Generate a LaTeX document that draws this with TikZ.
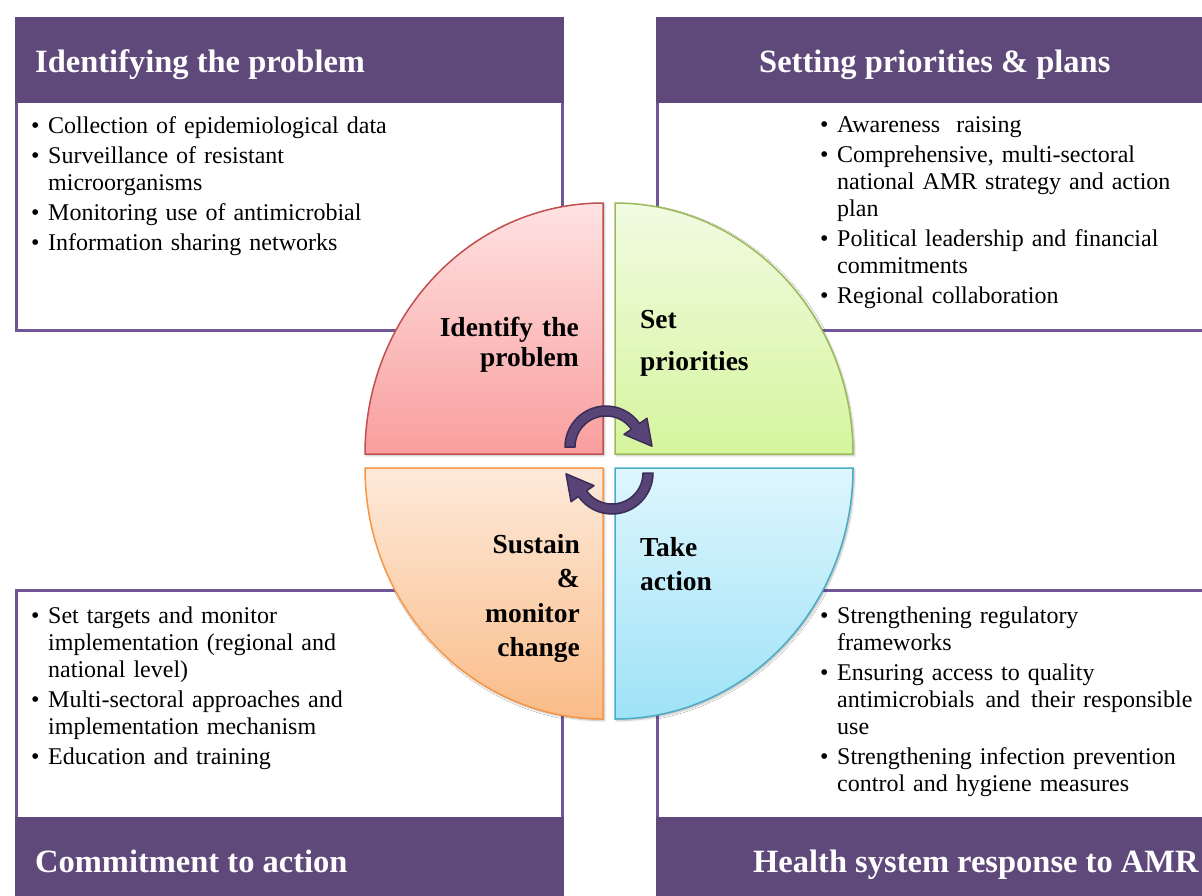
\documentclass[tikz,border=0pt]{standalone}
\usepackage{fontspec}
\setmainfont{Liberation Serif}
\usetikzlibrary{shadows.blur}

% palette
\definecolor{hdr}{RGB}{95,73,122}
\definecolor{frm}{RGB}{112,86,152}
\definecolor{redA}{RGB}{255,226,226}\definecolor{redB}{RGB}{249,158,158}\definecolor{redL}{RGB}{192,80,77}
\definecolor{grnA}{RGB}{241,251,226}\definecolor{grnB}{RGB}{214,245,158}\definecolor{grnL}{RGB}{155,187,89}
\definecolor{orgA}{RGB}{253,234,218}\definecolor{orgB}{RGB}{250,188,136}\definecolor{orgL}{RGB}{247,150,70}
\definecolor{bluA}{RGB}{222,246,253}\definecolor{bluB}{RGB}{158,226,247}\definecolor{bluL}{RGB}{75,172,198}
\definecolor{arrF}{RGB}{88,68,118}
\definecolor{arrL}{RGB}{60,44,88}

\newcommand{\bul}{\makebox[17pt][l]{\textbullet}}
\newcommand{\cnt}{\hspace*{17pt}}

\tikzset{
  panel/.style={fill=white, draw=frm, line width=3pt},
  bar/.style={fill=hdr},
  bartext/.style={text=white, inner sep=0pt, font=\fontsize{32.5}{36}\selectfont\bfseries},
  body/.style={inner sep=0pt, text width=400pt, align=left, anchor=base west,
    font=\fontsize{24}{27}\selectfont},
  quad/.style={line width=1.5pt, blur shadow={shadow xshift=1.5pt, shadow yshift=-1.5pt,
    shadow blur radius=2pt, shadow opacity=30}},
  qlabel/.style={inner sep=0pt, text width=160pt, font=\bfseries},
  cyc/.style={fill=arrF, draw=arrL, line width=1.5pt, line join=round}
}

\begin{document}
\begin{tikzpicture}[x=1pt,y=-1pt]
\useasboundingbox (0,0) rectangle (1202,895);
\clip (0,0) rectangle (1202,895);

% four framed panels with their title bars
\path[panel] (16.5,18.5) rectangle (562.5,330.5);
\path[bar] (15,17) rectangle (564,103);
\path[panel] (657.5,18.5) rectangle (1220,330.5);
\path[bar] (656,17) rectangle (1220,103);
\path[panel] (16.5,590.5) rectangle (562.5,905);
\path[bar] (15,817) rectangle (564,905);
\path[panel] (657.5,590.5) rectangle (1220,905);
\path[bar] (656,817) rectangle (1220,905);

\node[bartext, anchor=base west] (t1) at (35,72) {Identifying the problem};
\node[bartext, anchor=base west] (t2) at (759,72) {Setting priorities \& plans};
\node[bartext, anchor=base west] (t3) at (35,872) {Commitment to action};
\node[bartext, anchor=base west] (t4) at (753,872) {Health system response to AMR};

\node[body] (b1) at (31,133) {%
\bul Collection of epidemiological data\\[3pt]
\bul Surveillance of resistant\\
\cnt microorganisms\\[3pt]
\bul Monitoring use of antimicrobial\\[3pt]
\bul Information sharing networks};

\node[body] (b2) at (820,132) {%
\bul Awareness\ \ raising\\[3pt]
\bul Comprehensive, multi-sectoral\\
\cnt national AMR strategy and action\\
\cnt plan\\[3pt]
\bul Political leadership and financial\\
\cnt commitments\\[3pt]
\bul Regional collaboration};

\node[body] (b3) at (31,623) {%
\bul Set targets and monitor\\
\cnt implementation (regional and\\
\cnt national level)\\[3pt]
\bul Multi-sectoral approaches and\\
\cnt implementation mechanism\\[3pt]
\bul Education and training};

\node[body] (b4) at (820,623) {%
\bul Strengthening regulatory\\
\cnt frameworks\\[3pt]
\bul Ensuring access to quality\\
\cnt antimicrobials\hspace{3pt} and\hspace{3pt} their responsible\\
\cnt use\\[3pt]
\bul Strengthening infection prevention\\
\cnt control and hygiene measures};

% the four quarters of the cycle
\path[quad, draw=redL, top color=redA, bottom color=redB]
  (603,454) -- (365,454) arc[start angle=180, end angle=270, x radius=238, y radius=251] -- cycle;
\path[quad, draw=grnL, top color=grnA, bottom color=grnB]
  (615,454) -- (615,203) arc[start angle=270, end angle=360, x radius=238, y radius=251] -- cycle;
\path[quad, draw=bluL, top color=bluA, bottom color=bluB]
  (615,468) -- (853,468) arc[start angle=0, end angle=90, x radius=238, y radius=251] -- cycle;
\path[quad, draw=orgL, top color=orgA, bottom color=orgB]
  (603,468) -- (603,719) arc[start angle=90, end angle=180, x radius=238, y radius=251] -- cycle;

\node[qlabel, align=right, anchor=base east, font=\fontsize{27.5}{30}\selectfont\bfseries]
  (q1) at (579,336) {Identify the\\problem};
\node[qlabel, align=left, anchor=base west, font=\fontsize{27.5}{42}\selectfont\bfseries]
  (q2) at (640,328) {Set\\priorities};
\node[qlabel, align=left, anchor=base west, font=\fontsize{27.5}{34.5}\selectfont\bfseries]
  (q3) at (640,556) {Take\\action};
\node[qlabel, align=right, anchor=base east, font=\fontsize{27.5}{34.5}\selectfont\bfseries]
  (q4) at (580,553) {Sustain\\\&\\monitor\\change};

% circular arrows in the middle
\begin{scope}[shift={(606,447)}]
  \path[cyc] (180:41) arc[start angle=180, end angle=325, radius=41]
    -- (325:50) -- (359:46) -- (325:22) -- (325:31)
    arc[start angle=325, end angle=180, radius=31] -- cycle;
\end{scope}
\begin{scope}[shift={(612,473)}]
  \path[cyc] (0:41) arc[start angle=0, end angle=145, radius=41]
    -- (145:50) -- (179:46) -- (145:22) -- (145:31)
    arc[start angle=145, end angle=0, radius=31] -- cycle;
\end{scope}
\end{tikzpicture}
\end{document}
